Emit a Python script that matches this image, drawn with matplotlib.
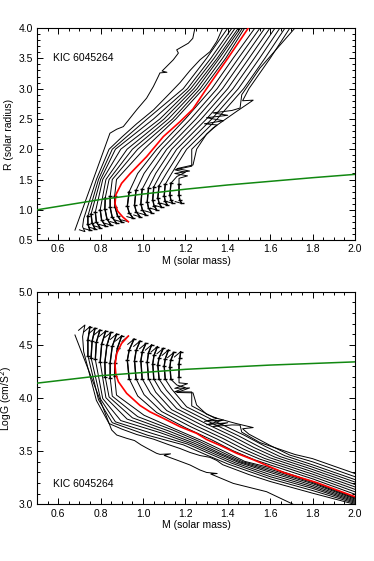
import matplotlib
matplotlib.use("Agg")
import matplotlib.pyplot as plt
from matplotlib.ticker import MultipleLocator, FormatStrFormatter

plt.rcParams['font.family'] = ['Liberation Sans', 'DejaVu Sans']

star = "KIC 6045264"

# ---------------- top panel: M vs R ----------------
a_top_m = [0.679, 0.844, 0.876, 0.907, 0.970, 1.017, 1.049, 1.072, 1.080, 1.113, 1.090, 1.143, 1.167, 1.159, 1.214, 1.235, 1.245]
a_top_r = [0.665, 2.264, 2.330, 2.373, 2.650, 2.843, 3.035, 3.200, 3.260, 3.270, 3.290, 3.476, 3.587, 3.640, 3.750, 3.830, 4.000]
b_top_m = [0.700, 0.726, 0.715, 0.720, 0.780, 0.840, 0.900, 0.970, 1.050, 1.120, 1.175, 1.222, 1.269, 1.316, 1.348, 1.376]
b_top_r = [0.670, 0.640, 0.720, 0.850, 1.500, 2.000, 2.200, 2.420, 2.650, 2.900, 3.100, 3.300, 3.476, 3.610, 3.780, 4.000]

l1_top_m = [0.720, 0.750, 0.740, 0.740, 0.790, 0.855, 1.020, 1.190, 1.300, 1.400]
l1_top_r = [0.692, 0.662, 0.760, 0.900, 1.500, 2.000, 2.500, 3.000, 3.500, 4.000]
l2_top_m = [0.744, 0.774, 0.760, 0.755, 0.800, 0.870, 1.050, 1.210, 1.320, 1.420]
l2_top_r = [0.714, 0.684, 0.780, 0.930, 1.500, 2.000, 2.500, 3.000, 3.500, 4.000]
l3_top_m = [0.767, 0.797, 0.780, 0.775, 0.810, 0.895, 1.080, 1.225, 1.335, 1.435]
l3_top_r = [0.737, 0.707, 0.800, 0.960, 1.500, 2.000, 2.500, 3.000, 3.500, 4.000]
l4_top_m = [0.794, 0.824, 0.805, 0.798, 0.825, 0.925, 1.100, 1.240, 1.350, 1.450]
l4_top_r = [0.758, 0.728, 0.830, 1.000, 1.500, 2.000, 2.500, 3.000, 3.500, 4.000]
l5_top_m = [0.819, 0.849, 0.830, 0.820, 0.822, 0.840, 0.950, 1.120, 1.255, 1.360, 1.460]
l5_top_r = [0.779, 0.749, 0.850, 1.020, 1.200, 1.500, 2.000, 2.500, 3.000, 3.500, 4.000]
l6_top_m = [0.846, 0.876, 0.855, 0.845, 0.845, 0.855, 0.975, 1.140, 1.270, 1.375, 1.470]
l6_top_r = [0.805, 0.775, 0.875, 1.040, 1.220, 1.500, 2.000, 2.500, 3.000, 3.500, 4.000]
l7_top_m = [0.870, 0.900, 0.880, 0.868, 0.866, 0.875, 1.005, 1.155, 1.285, 1.390, 1.480]
l7_top_r = [0.830, 0.800, 0.900, 1.050, 1.220, 1.500, 2.000, 2.500, 3.000, 3.500, 4.000]

red_top_m = [0.900, 0.931, 0.905, 0.880, 0.868, 0.872, 0.899, 0.940, 1.017, 1.096, 1.175, 1.235, 1.300, 1.400, 1.497, 1.550]
red_top_r = [0.833, 0.803, 0.880, 0.980, 1.100, 1.250, 1.437, 1.600, 1.877, 2.208, 2.456, 2.660, 3.000, 3.500, 4.000, 4.270]

d1_top_m = [0.924, 0.954, 0.935, 0.926, 0.935, 0.975, 1.065, 1.200, 1.325, 1.425, 1.528]
d1_top_r = [0.888, 0.858, 0.950, 1.060, 1.300, 1.600, 2.000, 2.500, 3.000, 3.500, 4.000]
d2_top_m = [0.956, 0.986, 0.968, 0.960, 0.967, 1.005, 1.088, 1.225, 1.350, 1.450, 1.552]
d2_top_r = [0.915, 0.885, 0.970, 1.080, 1.320, 1.600, 2.000, 2.500, 3.000, 3.500, 4.000]
d3_top_m = [0.984, 1.014, 0.997, 0.990, 0.996, 1.035, 1.112, 1.250, 1.375, 1.475, 1.575]
d3_top_r = [0.943, 0.913, 1.000, 1.100, 1.340, 1.600, 2.000, 2.500, 3.000, 3.500, 4.000]
d4_top_m = [1.011, 1.041, 1.026, 1.020, 1.026, 1.060, 1.135, 1.275, 1.400, 1.500, 1.599]
d4_top_r = [0.980, 0.950, 1.030, 1.130, 1.360, 1.600, 2.000, 2.500, 3.000, 3.500, 4.000]
d5_top_m = [1.035, 1.065, 1.052, 1.046, 1.051, 1.085, 1.159, 1.300, 1.425, 1.525, 1.623]
d5_top_r = [1.026, 0.996, 1.070, 1.170, 1.380, 1.600, 2.000, 2.500, 3.000, 3.500, 4.000]
d6_top_m = [1.058, 1.088, 1.076, 1.070, 1.076, 1.110, 1.182, 1.325, 1.450, 1.550, 1.646]
d6_top_r = [1.070, 1.040, 1.110, 1.200, 1.400, 1.600, 2.000, 2.500, 3.000, 3.500, 4.000]
d7_top_m = [1.085, 1.115, 1.105, 1.100, 1.105, 1.135, 1.206, 1.350, 1.475, 1.575, 1.670]
d7_top_r = [1.108, 1.078, 1.140, 1.230, 1.420, 1.600, 2.000, 2.500, 3.000, 3.500, 4.000]
d8_top_m = [1.110, 1.140, 1.131, 1.127, 1.132, 1.160, 1.200, 1.150, 1.230, 1.230, 1.330, 1.440, 1.520, 1.470, 1.500, 1.600, 1.693]
d8_top_r = [1.137, 1.107, 1.170, 1.250, 1.440, 1.550, 1.620, 1.660, 1.720, 2.000, 2.350, 2.620, 2.810, 2.800, 3.000, 3.500, 4.000]
d9_top_m = [1.152, 1.182, 1.174, 1.170, 1.170, 1.170, 1.210, 1.150, 1.220, 1.160, 1.236, 1.253, 1.300, 1.350,
            1.290, 1.380, 1.300, 1.400, 1.330, 1.420, 1.458, 1.466, 1.552, 1.717]
d9_top_r = [1.136, 1.106, 1.160, 1.240, 1.420, 1.520, 1.560, 1.600, 1.640, 1.680, 1.740, 2.000, 2.250, 2.400,
            2.420, 2.470, 2.520, 2.560, 2.600, 2.640, 2.680, 2.900, 3.340, 4.000]

green_m = [0.5, 0.8, 1.0, 1.2, 1.4, 1.6, 1.8, 2.0]
green_r = [1.00, 1.17, 1.26, 1.34, 1.41, 1.47, 1.53, 1.585]

# ---------------- bottom panel: M vs log g ----------------
a_bot_m = [0.679, 0.852, 0.876, 0.923, 0.960, 0.990, 1.017, 1.064, 1.080, 1.130, 1.100, 1.159, 1.222, 1.269,
           1.300, 1.350, 1.320, 1.426, 1.583, 1.709]
a_bot_g = [4.593, 3.700, 3.652, 3.621, 3.600, 3.560, 3.530, 3.480, 3.470, 3.475, 3.460, 3.417, 3.370, 3.323,
           3.300, 3.290, 3.285, 3.197, 3.119, 3.000]
b_bot_m = [0.696, 0.726, 0.715, 0.720, 0.780, 0.840, 0.900, 0.970, 1.050, 1.120, 1.175, 1.222, 1.269, 1.316,
           1.348, 1.376, 1.500, 1.600, 1.800, 2.000]
b_bot_g = [4.637, 4.687, 4.578, 4.437, 3.978, 3.760, 3.708, 3.657, 3.613, 3.562, 3.525, 3.488, 3.459, 3.442,
           3.413, 3.373, 3.280, 3.215, 3.105, 3.000]

l1_bot_m = [0.720, 0.750, 0.740, 0.740, 0.790, 0.855, 1.020, 1.190, 1.300, 1.400, 1.600, 1.800, 2.000]
l1_bot_g = [4.621, 4.671, 4.545, 4.399, 3.984, 3.768, 3.651, 3.560, 3.464, 3.380, 3.240, 3.130, 3.010]
l2_bot_m = [0.744, 0.774, 0.760, 0.755, 0.800, 0.870, 1.050, 1.210, 1.320, 1.420, 1.600, 1.800, 2.000]
l2_bot_g = [4.606, 4.656, 4.535, 4.379, 3.989, 3.776, 3.663, 3.567, 3.471, 3.386, 3.260, 3.150, 3.020]
l3_bot_m = [0.767, 0.797, 0.780, 0.775, 0.810, 0.895, 1.080, 1.225, 1.335, 1.435, 1.600, 1.800, 2.000]
l3_bot_g = [4.590, 4.640, 4.524, 4.363, 3.995, 3.788, 3.675, 3.572, 3.476, 3.391, 3.280, 3.165, 3.030]
l4_bot_m = [0.794, 0.824, 0.805, 0.798, 0.825, 0.925, 1.100, 1.240, 1.350, 1.450, 1.600, 1.800, 2.000]
l4_bot_g = [4.580, 4.630, 4.506, 4.340, 4.003, 3.802, 3.683, 3.577, 3.480, 3.395, 3.300, 3.180, 3.040]
l5_bot_m = [0.819, 0.849, 0.830, 0.820, 0.822, 0.840, 0.950, 1.120, 1.255, 1.360, 1.460, 1.600, 1.800, 2.000]
l5_bot_g = [4.568, 4.618, 4.498, 4.335, 4.195, 4.010, 3.814, 3.691, 3.583, 3.484, 3.398, 3.315, 3.195, 3.050]
l6_bot_m = [0.846, 0.876, 0.855, 0.845, 0.845, 0.855, 0.975, 1.140, 1.270, 1.375, 1.470, 1.600, 1.800, 2.000]
l6_bot_g = [4.552, 4.602, 4.486, 4.331, 4.192, 4.018, 3.825, 3.699, 3.588, 3.488, 3.401, 3.330, 3.205, 3.058]
l7_bot_m = [0.870, 0.900, 0.880, 0.868, 0.866, 0.875, 1.005, 1.155, 1.285, 1.390, 1.480, 1.600, 1.800, 2.000]
l7_bot_g = [4.536, 4.586, 4.474, 4.334, 4.203, 4.028, 3.838, 3.705, 3.593, 3.493, 3.404, 3.345, 3.215, 3.065]

red_bot_m = [0.901, 0.931, 0.899, 0.876, 0.868, 0.872, 0.884, 0.923, 0.986, 1.033, 1.096, 1.175, 1.253, 1.300,
             1.363, 1.442, 1.520, 1.662, 1.819, 2.000]
red_bot_g = [4.533, 4.583, 4.514, 4.420, 4.310, 4.220, 4.153, 4.044, 3.930, 3.870, 3.809, 3.730, 3.668, 3.610,
             3.555, 3.480, 3.420, 3.300, 3.205, 3.072]

d1_bot_m = [0.928, 0.958, 0.935, 0.926, 0.935, 0.975, 1.065, 1.200, 1.325, 1.425, 1.528, 1.800, 2.000]
d1_bot_g = [4.505, 4.555, 4.453, 4.354, 4.181, 4.019, 3.863, 3.721, 3.606, 3.504, 3.418, 3.240, 3.095]
d2_bot_m = [0.956, 0.986, 0.968, 0.960, 0.967, 1.005, 1.088, 1.225, 1.350, 1.450, 1.552, 1.800, 2.000]
d2_bot_g = [4.486, 4.536, 4.450, 4.353, 4.182, 4.032, 3.873, 3.730, 3.614, 3.511, 3.425, 3.262, 3.118]
d3_bot_m = [0.984, 1.014, 0.997, 0.990, 0.996, 1.035, 1.112, 1.250, 1.375, 1.475, 1.575, 1.800, 2.000]
d3_bot_g = [4.464, 4.514, 4.437, 4.351, 4.182, 4.045, 3.882, 3.739, 3.622, 3.519, 3.431, 3.284, 3.141]
d4_bot_m = [1.011, 1.041, 1.026, 1.020, 1.026, 1.060, 1.135, 1.275, 1.400, 1.500, 1.599, 1.800, 2.000]
d4_bot_g = [4.450, 4.500, 4.424, 4.340, 4.182, 4.055, 3.891, 3.748, 3.630, 3.526, 3.438, 3.306, 3.164]
d5_bot_m = [1.038, 1.068, 1.052, 1.046, 1.051, 1.085, 1.159, 1.300, 1.425, 1.525, 1.623, 1.800, 2.000]
d5_bot_g = [4.433, 4.483, 4.401, 4.321, 4.180, 4.065, 3.900, 3.756, 3.638, 3.533, 3.444, 3.328, 3.187]
d6_bot_m = [1.066, 1.096, 1.076, 1.070, 1.076, 1.110, 1.182, 1.325, 1.450, 1.550, 1.646, 1.800, 2.000]
d6_bot_g = [4.417, 4.467, 4.379, 4.309, 4.178, 4.075, 3.909, 3.764, 3.645, 3.540, 3.450, 3.350, 3.210]
d7_bot_m = [1.090, 1.120, 1.105, 1.100, 1.105, 1.135, 1.206, 1.350, 1.475, 1.575, 1.670, 1.800, 2.000]
d7_bot_g = [4.401, 4.451, 4.368, 4.300, 4.177, 4.085, 3.917, 3.772, 3.653, 3.547, 3.457, 3.372, 3.233]
d8_bot_m = [1.116, 1.146, 1.131, 1.127, 1.132, 1.160, 1.200, 1.150, 1.230, 1.230, 1.330, 1.440, 1.520, 1.470,
            1.500, 1.600, 1.693, 1.800, 2.000]
d8_bot_g = [4.380, 4.430, 4.355, 4.296, 4.175, 4.122, 4.098, 4.059, 4.057, 3.926, 3.820, 3.760, 3.722, 3.711,
            3.660, 3.554, 3.463, 3.400, 3.260]
d9_bot_m = [1.148, 1.178, 1.174, 1.170, 1.170, 1.170, 1.210, 1.150, 1.220, 1.160, 1.236, 1.253, 1.300, 1.350,
            1.290, 1.380, 1.300, 1.400, 1.330, 1.420, 1.458, 1.466, 1.552, 1.717, 1.800, 2.000]
d9_bot_g = [4.386, 4.436, 4.379, 4.320, 4.202, 4.143, 4.135, 4.091, 4.095, 4.052, 4.049, 3.934, 3.848, 3.808,
            3.781, 3.793, 3.749, 3.768, 3.732, 3.747, 3.745, 3.679, 3.581, 3.469, 3.430, 3.290]

green_g = [4.14, 4.21, 4.24, 4.27, 4.29, 4.31, 4.325, 4.34]

# black tracks, with how many leading points form the jagged hook
top_black = [(a_top_m, a_top_r, 0), (b_top_m, b_top_r, 0),
             (l1_top_m, l1_top_r, 4), (l2_top_m, l2_top_r, 4), (l3_top_m, l3_top_r, 4), (l4_top_m, l4_top_r, 4),
             (l5_top_m, l5_top_r, 5), (l6_top_m, l6_top_r, 5), (l7_top_m, l7_top_r, 5),
             (d1_top_m, d1_top_r, 5), (d2_top_m, d2_top_r, 5), (d3_top_m, d3_top_r, 5), (d4_top_m, d4_top_r, 5),
             (d5_top_m, d5_top_r, 5), (d6_top_m, d6_top_r, 5), (d7_top_m, d7_top_r, 5),
             (d8_top_m, d8_top_r, 5), (d9_top_m, d9_top_r, 5)]
bot_black = [(a_bot_m, a_bot_g, 0), (b_bot_m, b_bot_g, 0),
             (l1_bot_m, l1_bot_g, 4), (l2_bot_m, l2_bot_g, 4), (l3_bot_m, l3_bot_g, 4), (l4_bot_m, l4_bot_g, 4),
             (l5_bot_m, l5_bot_g, 5), (l6_bot_m, l6_bot_g, 5), (l7_bot_m, l7_bot_g, 5),
             (d1_bot_m, d1_bot_g, 5), (d2_bot_m, d2_bot_g, 5), (d3_bot_m, d3_bot_g, 5), (d4_bot_m, d4_bot_g, 5),
             (d5_bot_m, d5_bot_g, 5), (d6_bot_m, d6_bot_g, 5), (d7_bot_m, d7_bot_g, 5),
             (d8_bot_m, d8_bot_g, 5), (d9_bot_m, d9_bot_g, 5)]


def style(ax, ymaj, ylabel):
    ax.set_xlim(0.5, 2.0)
    ax.xaxis.set_major_locator(MultipleLocator(0.2))
    ax.xaxis.set_minor_locator(MultipleLocator(0.05))
    ax.yaxis.set_major_locator(MultipleLocator(ymaj))
    ax.yaxis.set_minor_locator(MultipleLocator(0.1))
    ax.xaxis.set_major_formatter(FormatStrFormatter('%.1f'))
    ax.yaxis.set_major_formatter(FormatStrFormatter('%.1f'))
    ax.tick_params(which='both', direction='in', top=True, right=True, labelsize=7.5, width=0.7, pad=3)
    ax.tick_params(which='major', length=4.5)
    ax.tick_params(which='minor', length=2.2)
    for s in ax.spines.values():
        s.set_linewidth(0.8)
    ax.set_xlabel("M (solar mass)", fontsize=7.5, labelpad=1)
    ax.set_ylabel(ylabel, fontsize=7.5, labelpad=3)


def draw(ax, tracks, red_m, red_y, gm, gy):
    for m, y, nh in tracks:
        ax.plot(m, y, color='black', lw=0.7, zorder=2)
        if nh:
            # the jagged pre-main-sequence hook: slightly heavier with short dashes
            ax.plot(m[1:nh], y[1:nh], color='black', lw=1.0, marker='_', ms=3.5, mew=1.0, zorder=2)
    ax.plot(red_m[:2], red_y[:2], color='black', lw=0.7, zorder=2)
    ax.plot(red_m[1:], red_y[1:], color='#ff0000', lw=1.2, zorder=3)
    ax.plot(gm, gy, color='#118811', lw=1.1, zorder=4)


fig = plt.figure(figsize=(3.74, 5.61), dpi=100)
ax1 = fig.add_axes([0.099, 0.572, 0.850, 0.378])
ax2 = fig.add_axes([0.099, 0.101, 0.850, 0.379])

draw(ax1, top_black, red_top_m, red_top_r, green_m, green_r)
ax1.set_ylim(0.5, 4.0)
style(ax1, 0.5, "R (solar radius)")
ax1.text(0.574, 3.51, star, fontsize=7.5, va='center')

draw(ax2, bot_black, red_bot_m, red_bot_g, green_m, green_g)
ax2.set_ylim(3.0, 5.0)
style(ax2, 0.5, "LogG (cm/S$^2$)")
ax2.text(0.574, 3.19, star, fontsize=7.5, va='center')

fig.savefig("out.png", dpi=100)
